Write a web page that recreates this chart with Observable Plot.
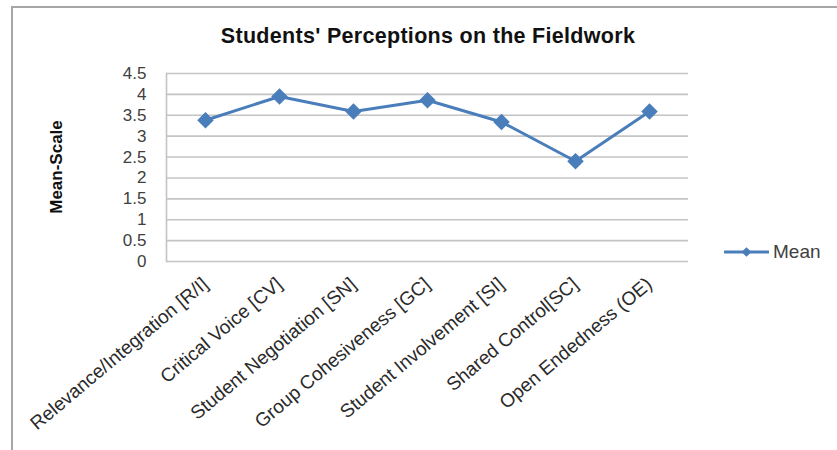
<!DOCTYPE html>
<html>
<head>
<meta charset="utf-8">
<script src="https://cdn.jsdelivr.net/npm/d3@7"></script>
<script src="https://cdn.jsdelivr.net/npm/@observablehq/plot@0.6"></script>
<style>
  html, body { margin: 0; padding: 0; background: #fff; overflow: hidden; }
  #wrap { position: relative; width: 837px; height: 450px; overflow: hidden; font-family: "Liberation Sans", Arial, sans-serif; }
  #border { position: absolute; left: 11px; top: 6px; width: 900px; height: 500px; border: 2px solid #a6a6a6; box-sizing: border-box; }
  #title { position: absolute; left: 0; width: 856px; top: 24px; text-align: center; font-weight: bold; font-size: 21.5px; letter-spacing: 0.3px; color: #111; }
  #ylabel { position: absolute; left: 57px; top: 167px; transform: translate(-50%, -50%) rotate(-90deg); font-weight: bold; font-size: 17px; color: #111; white-space: nowrap; }
  #legend { position: absolute; left: 723px; top: 241px; display: flex; align-items: center; font-size: 19px; color: #404040; }
  #chart { position: absolute; left: 0; top: 0; }
</style>
</head>
<body>
<div id="wrap">
  <div id="border"></div>
  <div id="chart"></div>
  <div id="title"></div>
  <div id="ylabel"></div>
  <div id="legend"></div>
</div>
<script>
const titleText = "Students' Perceptions on the Fieldwork";
const yLabel = "Mean-Scale";
const seriesName = "Mean";
const categories = [
  "Relevance/Integration [R/I]",
  "Critical Voice [CV]",
  "Student Negotiation [SN]",
  "Group Cohesiveness [GC]",
  "Student Involvement [SI]",
  "Shared Control[SC]",
  "Open Endedness (OE)"
];
const meanValues = [3.38, 3.95, 3.59, 3.86, 3.34, 2.40, 3.59];
const yTicks = [0, 0.5, 1, 1.5, 2, 2.5, 3, 3.5, 4, 4.5];

const lineColor = "#4a7ebb";
const data = categories.map((c, i) => ({category: c, value: meanValues[i]}));

const chart = Plot.plot({
  width: 837,
  height: 450,
  marginLeft: 166,
  marginRight: 149,
  marginTop: 73,
  marginBottom: 189,
  style: {fontFamily: "Liberation Sans, Arial, sans-serif", background: "transparent"},
  x: {type: "point", domain: categories, padding: 0.5, label: null},
  y: {domain: [0, 4.5], label: null},
  marks: [
    Plot.ruleY(yTicks, {stroke: "#c4c4c4", strokeWidth: 1.6}),
    Plot.frame({anchor: "left", stroke: "#c4c4c4", strokeWidth: 1.6}),
    Plot.axisY({ticks: yTicks, tickSize: 0, tickPadding: 20, fontSize: 17, fill: "#404040", label: null, tickFormat: d => String(d)}),
    Plot.axisX({tickSize: 0, tickPadding: 20, tickRotate: -40, fontSize: 19, fill: "#2a2a2a", label: null}),
    Plot.line(data, {x: "category", y: "value", stroke: lineColor, strokeWidth: 3}),
    Plot.dot(data, {x: "category", y: "value", symbol: "diamond2", r: 6.5, fill: lineColor, stroke: lineColor})
  ]
});
document.getElementById("chart").appendChild(chart);
document.getElementById("title").textContent = titleText;
document.getElementById("ylabel").textContent = yLabel;

const legend = document.getElementById("legend");
const sw = d3.create("svg").attr("width", 48).attr("height", 14);
sw.append("line").attr("x1", 1).attr("x2", 46).attr("y1", 7).attr("y2", 7).attr("stroke", lineColor).attr("stroke-width", 3);
sw.append("path").attr("d", d3.symbol(d3.symbolDiamond2, 60)()).attr("transform", "translate(23.5,7)").attr("fill", lineColor);
legend.appendChild(sw.node());
const lt = document.createElement("span");
lt.textContent = seriesName;
lt.style.marginLeft = "2px";
legend.appendChild(lt);
</script>
</body>
</html>
